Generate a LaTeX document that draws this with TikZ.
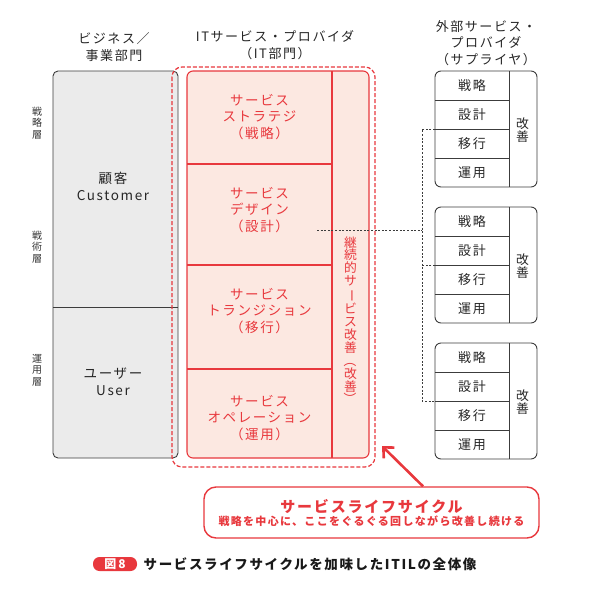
\documentclass[tikz,border=0pt]{standalone}
\usepackage{fontspec}
\setmainfont{Noto Sans CJK JP}
\newfontfamily\jpfont[LetterSpace=12]{Noto Sans CJK JP}
\usetikzlibrary{arrows.meta, positioning, calc}

\definecolor{itred}{HTML}{E8383D}
\definecolor{itpink}{HTML}{FCE8E1}
\definecolor{bizgray}{HTML}{EBEBEB}
\definecolor{linegray}{HTML}{3C3C3C}

\newcommand{\tatebo}[1]{\rotatebox[origin=c]{-90}{#1}}

\begin{document}
\begin{tikzpicture}[x=1pt, y=-1pt,
  grayline/.style={draw=linegray, line width=0.9pt},
  redline/.style={draw=itred, line width=1.1pt},
  headtext/.style={font=\jpfont\fontsize{13}{16.5}\selectfont, text=black!85, align=center},
  laytext/.style={font=\fontsize{10}{11.5}\selectfont, text=black!80, align=center},
  bodytext/.style={font=\jpfont\fontsize{13.5}{17}\selectfont, text=black!85, align=center},
  redtext/.style={font=\jpfont\fontsize{13.5}{16.5}\selectfont, text=itred, align=center},
  rowtext/.style={font=\jpfont\fontsize{13}{15}\selectfont, text=black!85},
  tatetext/.style={font=\fontsize{12.8}{12.9}\selectfont, align=center, inner sep=0pt},
  link/.style={draw=linegray, line width=0.8pt, dash pattern=on 2pt off 1.6pt},
  redarrow/.style={draw=itred, line width=2.6pt, -{Straight Barb[length=8pt, width=15pt]}}
]
\useasboundingbox (0,0) rectangle (595,595);

% Geometry parameters
\def\Top{71}      % top of the columns
\def\Bot{458}     % bottom of the columns

% Business column
\draw[grayline, fill=bizgray, rounded corners=5pt] (53,\Top) rectangle (178,\Bot);
\draw[grayline] (53,307) -- (178,307);
\node[bodytext] (cust) at (113,186) {顧客\\Customer};
\node[bodytext] (user) at (113,382) {ユーザー\\User};

% Layer labels
\node[laytext] (lstrat) at (37,123) {戦\\略\\層};
\node[laytext] (ltact) at (37,247) {戦\\術\\層};
\node[laytext] (lops) at (37,370) {運\\用\\層};

% IT service provider
\draw[itred, line width=1.2pt, dash pattern=on 4pt off 2pt, rounded corners=10pt] (172,67) rectangle (375,467);
\draw[redline, fill=itpink, rounded corners=6pt] (187,\Top) rectangle (369,\Bot);
\draw[redline] (332,\Top) -- (332,\Bot);
\foreach \y in {164,265,369} {
  \draw[redline] (187,\y) -- (332,\y);
}
\node[redtext] (strat) at (259.5,117) {サービス\\ストラテジ\\（戦略）};
\node[redtext] (design) at (259.5,210) {サービス\\デザイン\\（設計）};
\node[redtext] (trans) at (259.5,311) {サービス\\トランジション\\（移行）};
\node[redtext] (oper) at (259.5,418) {サービス\\オペレーション\\（運用）};
\node[tatetext, text=itred] (csi) at (350.5,321) {継\\続\\的\\サ\\\tatebo{ー}\\ビ\\ス\\改\\善\\\tatebo{（}\\改\\善\\\tatebo{）}};

% Headers
\node[headtext] (hbiz) at (114,47) {ビジネス／\\事業部門};
\node[headtext] (hit) at (275,45) {ITサービス・プロバイダ\\（IT部門）};
\node[headtext] (hsup) at (486,43) {外部サービス・\\プロバイダ\\（サプライヤ）};

% Supplier boxes
\foreach \b/\t in {1/71, 2/207, 3/343} {
  \draw[grayline, rounded corners=6pt] (435,\t) rectangle (537,\t+116);
  \draw[grayline] (509,\t) -- (509,\t+116);
  \foreach \d in {29,58,87} {
    \draw[grayline] (435,\t+\d) -- (509,\t+\d);
  }
  \foreach \r/\txt in {0/戦略, 1/設計, 2/移行, 3/運用} {
    \node[rowtext] (s\b r\r) at (472,\t+14.5+\r*29) {\txt};
  }
  \node[tatetext, text=black!85] (s\b kai) at (522.5,\t+59) {改\\善};
  \coordinate (s\b join) at (435,\t+58);
}

% Links to the suppliers
\coordinate (itjoin) at (317,230);
\draw[link] (s1join) -- ++(-13,0) |- (s3join);
\draw[link] (s2join) -- ++(-13,0);
\draw[link] (itjoin) -- (itjoin -| {$(s1join)+(-13,0)$});

% Service life cycle
\node[draw=itred, line width=1.4pt, fill=white, rounded corners=12pt,
      minimum width=335pt, minimum height=51pt, align=center, text=itred] (cycle) at (371.5,512.5)
  {{\jpfont\fontsize{15}{17}\selectfont\bfseries サービスライフサイクル}\\[1pt]
   {\jpfont\fontsize{11}{13}\selectfont\bfseries 戦略を中心に、ここをぐるぐる回しながら改善し続ける}};
\coordinate (itcorner) at (382,446);
\draw[redarrow] ([xshift=51.5pt]cycle.north) -- (itcorner);

% Caption
\node[fill=itred, text=white, rounded corners=6.5pt, minimum width=44pt, minimum height=14pt,
      inner sep=0pt, font=\fontsize{12}{13}\selectfont\bfseries] (fig) at (115,564) {図\,8};
\node[right=3pt of fig, font=\jpfont\fontsize{13.5}{15}\selectfont\bfseries, text=black!90] (cap)
  {サービスライフサイクルを加味したITILの全体像};

\end{tikzpicture}
\end{document}
